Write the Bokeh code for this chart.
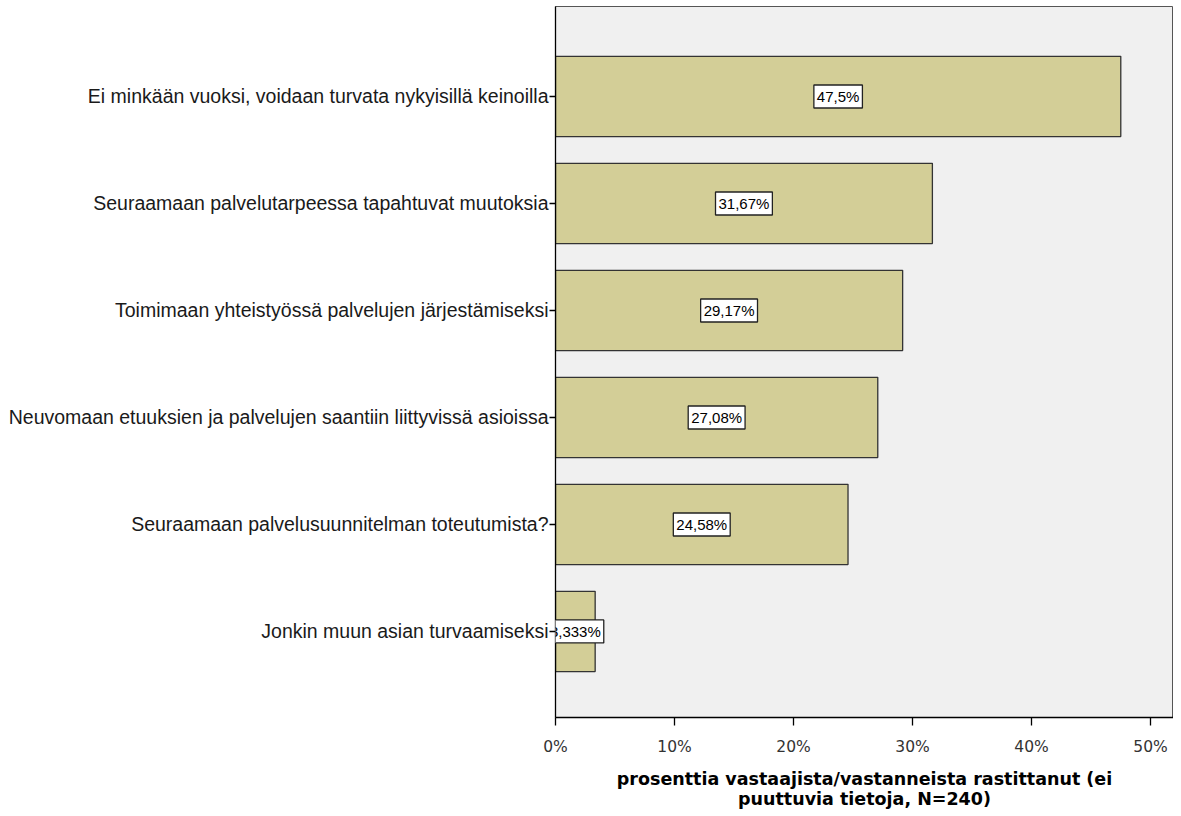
from bokeh.plotting import figure
from bokeh.models import ColumnDataSource, Range1d, FixedTicker, PrintfTickFormatter, Label
from bokeh.embed import file_html
from bokeh.resources import INLINE

categories = [
    "Ei minkään vuoksi, voidaan turvata nykyisillä keinoilla",
    "Seuraamaan palvelutarpeessa tapahtuvat muutoksia",
    "Toimimaan yhteistyössä palvelujen järjestämiseksi",
    "Neuvomaan etuuksien ja palvelujen saantiin liittyvissä asioissa",
    "Seuraamaan palvelusuunnitelman toteutumista?",
    "Jonkin muun asian turvaamiseksi",
]
values = [47.5, 31.67, 29.17, 27.08, 24.58, 3.333]
value_labels = ["47,5%", "31,67%", "29,17%", "27,08%", "24,58%", "3,333%"]
x_ticks = [0, 10, 20, 30, 40, 50]

n = len(categories)
ypos = [n - i for i in range(n)]  # top category highest

src = ColumnDataSource(dict(
    y=ypos,
    val=values,
    lab=value_labels,
))

p = figure(
    width=1173, height=812,
    y_range=Range1d(0.5 - 0.304, n + 0.5 + 0.341),
    x_range=Range1d(0, 51.93),
    output_backend="svg", toolbar_location=None,
    min_border_left=555, min_border_right=0, min_border_top=6, min_border_bottom=95,
)
p.background_fill_color = "#f0f0f0"
p.border_fill_color = "white"
p.outline_line_color = "#555555"
p.outline_line_width = 1
p.xgrid.visible = False
p.ygrid.visible = False

p.hbar(y="y", right="val", left=0, height=0.75, source=src,
       fill_color="#d3ce97", line_color="#333333", line_width=1.3)

for yy, v, t in zip(ypos, values, value_labels):
    p.add_layout(Label(x=v / 2, y=yy, text=t,
                       text_align="center", text_baseline="middle",
                       text_font="Liberation Sans", text_font_size="15px", text_color="black",
                       background_fill_color="white", border_line_color="#222222", border_line_width=1.3,
                       padding=3))

p.xaxis.ticker = FixedTicker(ticks=x_ticks)
p.xaxis.formatter = PrintfTickFormatter(format="%d%%")
p.xaxis.major_label_text_font = "DejaVu Sans"
p.xaxis.major_label_text_font_size = "15.5px"
p.xaxis.major_label_text_color = "#333333"
p.xaxis.major_tick_out = 8
p.xaxis.major_tick_in = 0
p.xaxis.minor_tick_line_color = None
p.xaxis.major_label_standoff = 12
p.xaxis.axis_line_color = "black"
p.xaxis.major_tick_line_color = "black"
p.xaxis.axis_line_width = 1.3
p.xaxis.major_tick_line_width = 1.3
p.xaxis.axis_label = "prosenttia vastaajista/vastanneista rastittanut (ei\npuuttuvia tietoja, N=240)"
p.xaxis.axis_label_text_font = "DejaVu Sans"
p.xaxis.axis_label_text_font_style = "bold"
p.xaxis.axis_label_text_font_size = "17.5px"
p.xaxis.axis_label_text_line_height = 1.0
p.xaxis.axis_label_text_color = "black"
p.xaxis.axis_label_standoff = 10

p.yaxis.ticker = FixedTicker(ticks=ypos)
p.yaxis.major_label_overrides = {yy: c for yy, c in zip(ypos, categories)}
p.yaxis.minor_tick_line_color = None
p.yaxis.major_label_text_font = "Liberation Sans"
p.yaxis.major_label_text_font_size = "19.5px"
p.yaxis.major_label_text_color = "#1a1a1a"
p.yaxis.major_tick_out = 6
p.yaxis.major_tick_in = 0
p.yaxis.major_label_standoff = 1
p.yaxis.axis_line_color = "black"
p.yaxis.major_tick_line_color = "black"
p.yaxis.axis_line_width = 1.3
p.yaxis.major_tick_line_width = 1.3

open("out.html", "w").write(file_html(p, INLINE))
